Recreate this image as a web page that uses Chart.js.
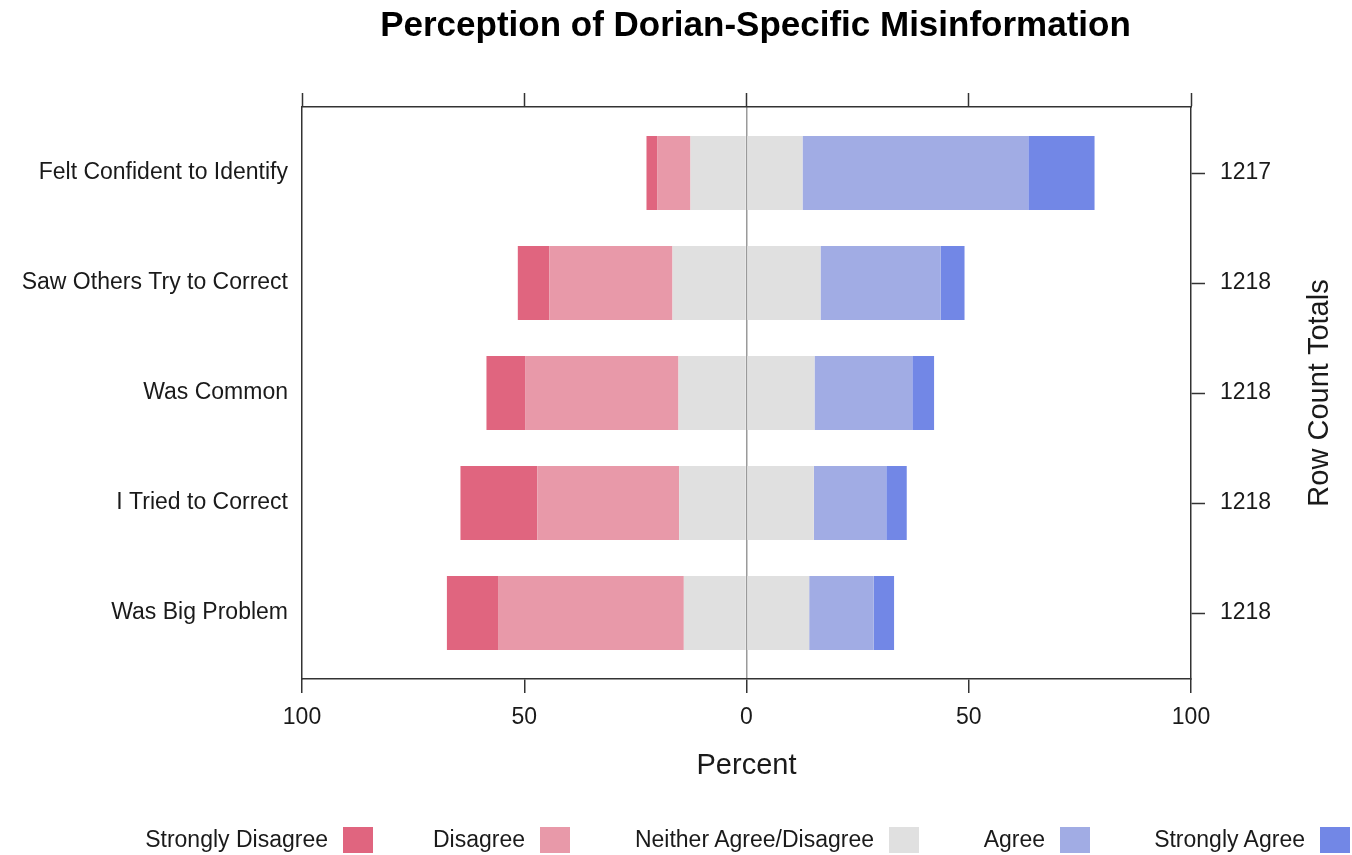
<!DOCTYPE html>
<html>
<head>
<meta charset="utf-8">
<title>Perception of Dorian-Specific Misinformation</title>
<script src="https://cdn.jsdelivr.net/npm/chart.js@4.4.1/dist/chart.umd.min.js"></script>
<style>
  html, body { margin: 0; padding: 0; background: #fff; }
  #wrap { position: relative; width: 1352px; height: 855px; overflow: hidden; }
  .item {
    position: absolute; top: 826px; height: 27px;
    display: flex; align-items: center; gap: 15px;
    font: 23px "Liberation Sans", Arial, sans-serif; color: #1a1a1a; white-space: nowrap;
  }
  .box { width: 30px; height: 26px; }
</style>
</head>
<body>
<div id="wrap">
  <canvas id="chart" width="1352" height="855"></canvas>
  <div id="legend"></div>
</div>
<script>
// Data (percent of respondents)
const categories = ["Felt Confident to Identify", "Saw Others Try to Correct", "Was Common", "I Tried to Correct", "Was Big Problem"];
const stronglyDisagree = [2.4, 7.1, 8.8, 17.3, 11.5];
const disagree = [7.5, 27.7, 34.4, 31.9, 41.8];
const neutral = [25.2, 33.3, 30.6, 30.3, 28.2];
const agree = [50.8, 27.0, 22.0, 16.3, 14.5];
const stronglyAgree = [14.9, 5.4, 4.9, 4.6, 4.6];
const rowTotals = [1217, 1218, 1218, 1218, 1218];

const legendLabels = ["Strongly Disagree", "Disagree", "Neither Agree/Disagree", "Agree", "Strongly Agree"];
const colors = ["#E0657F", "#E899A9", "#E0E0E0", "#A1ACE4", "#7287E6"];

const chartTitle = "Perception of Dorian-Specific Misinformation";
const xTitle = "Percent";
const rightTitle = "Row Count Totals";

const FONT = '"Liberation Sans", Arial, sans-serif';
const TEXT = "#1a1a1a";
const LINE = "#333";

// helper: data points on the numeric row axis
const toPoints = (arr, sign) => arr.map((v, i) => ({ x: sign * v, y: i }));

// negatives stack outward from 0 in dataset order, same for positives
const datasets = [
  { label: legendLabels[2], data: toPoints(neutral.map(v => v / 2), -1), backgroundColor: colors[2] },
  { label: legendLabels[1], data: toPoints(disagree, -1), backgroundColor: colors[1] },
  { label: legendLabels[0], data: toPoints(stronglyDisagree, -1), backgroundColor: colors[0] },
  { label: legendLabels[2], data: toPoints(neutral.map(v => v / 2), 1), backgroundColor: colors[2] },
  { label: legendLabels[3], data: toPoints(agree, 1), backgroundColor: colors[3] },
  { label: legendLabels[4], data: toPoints(stronglyAgree, 1), backgroundColor: colors[4] }
];

const keepWholeTicks = s => { s.ticks = s.ticks.filter(t => Number.isInteger(t.value)); };

// title and right-hand axis title, drawn by hand
const extras = {
  id: "extras",
  afterDraw(chart) {
    const { ctx, chartArea } = chart;
    ctx.save();
    ctx.textAlign = "center";
    ctx.textBaseline = "middle";
    ctx.fillStyle = "#000";
    ctx.font = "bold 35px " + FONT;
    ctx.fillText(chartTitle, (chartArea.left + chartArea.right) / 2 + 9, 26);

    ctx.fillStyle = TEXT;
    ctx.font = "29px " + FONT;
    ctx.translate(chartArea.right + 129, (chartArea.top + chartArea.bottom) / 2);
    ctx.rotate(-Math.PI / 2);
    ctx.fillText(rightTitle, 0, 0);
    ctx.restore();
  }
};

new Chart(document.getElementById("chart"), {
  type: "bar",
  data: { datasets: datasets },
  plugins: [extras],
  options: {
    indexAxis: "y",
    responsive: false,
    animation: false,
    layout: { padding: 0 },
    datasets: { bar: { categoryPercentage: 1, barPercentage: 0.673, borderWidth: 0 } },
    plugins: {
      legend: { display: false },
      title: { display: false },
      tooltip: { enabled: false }
    },
    scales: {
      x: {
        type: "linear", position: "bottom", min: -100, max: 100, stacked: true,
        afterFit: s => { s.height = 176; },
        grid: {
          color: c => (c.tick && c.tick.value === 0 ? "#9a9a9a" : "transparent"),
          lineWidth: 1.5, tickLength: 14, tickColor: LINE, tickWidth: 1.5
        },
        border: { color: LINE, width: 1.5 },
        ticks: { stepSize: 50, padding: 11, color: TEXT, font: { family: FONT, size: 23 }, callback: v => Math.abs(v) },
        title: { display: true, text: xTitle, color: TEXT, font: { family: FONT, size: 29 }, padding: { top: 0, bottom: 72 } }
      },
      x2: {
        type: "linear", position: "top", min: -100, max: 100,
        afterFit: s => { s.height = 107; },
        grid: { drawOnChartArea: false, tickLength: 14, tickColor: LINE, tickWidth: 1.5 },
        border: { color: LINE, width: 1.5 },
        ticks: { stepSize: 50, display: false }
      },
      y: {
        type: "linear", position: "left", reverse: true, min: -0.6, max: 4.6, stacked: true,
        offset: false,
        afterFit: s => { s.width = 302; },
        afterBuildTicks: keepWholeTicks,
        grid: { offset: false, drawOnChartArea: false, drawTicks: false },
        border: { color: LINE, width: 1.5 },
        ticks: { stepSize: 1, autoSkip: false, padding: 14, color: TEXT, font: { family: FONT, size: 23 }, callback: v => categories[v] }
      },
      y2: {
        type: "linear", position: "right", reverse: true, min: -0.6, max: 4.6,
        offset: false,
        afterFit: s => { s.width = 161; },
        afterBuildTicks: keepWholeTicks,
        grid: { offset: false, drawOnChartArea: false, tickLength: 14, tickColor: LINE, tickWidth: 1.5 },
        border: { color: LINE, width: 1.5 },
        ticks: { stepSize: 1, autoSkip: false, padding: 15, color: TEXT, font: { family: FONT, size: 23 }, callback: v => rowTotals[v] }
      }
    }
  }
});

// legend: text on the left of each colour box
const legendRight = [373, 570, 919, 1090, 1350];
const legend = document.getElementById("legend");
legendLabels.forEach((name, i) => {
  const item = document.createElement("div");
  item.className = "item";
  item.style.right = (1352 - legendRight[i]) + "px";
  item.innerHTML = '<span>' + name + '</span><span class="box" style="background:' + colors[i] + '"></span>';
  legend.appendChild(item);
});
</script>
</body>
</html>
